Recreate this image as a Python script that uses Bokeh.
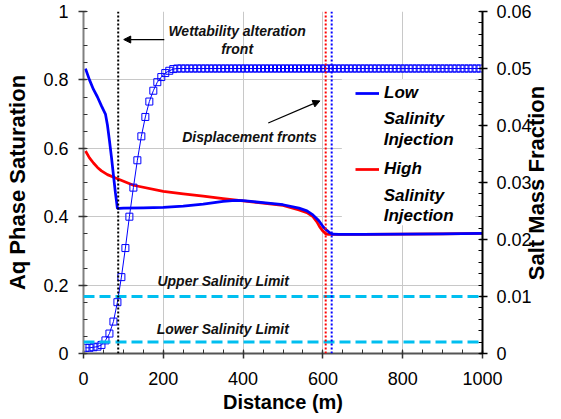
import math
from bokeh.plotting import figure
from bokeh.models import (Range1d, LinearAxis, SingleIntervalTicker, Span, Label,
                          Arrow, NormalHead, BoxAnnotation, Legend, LegendItem,
                          CustomJSTickFormatter)
from bokeh.embed import file_html
from bokeh.resources import INLINE

# ---------------- data ----------------
# Aqueous phase saturation, low salinity injection
low_x = [5, 15, 25, 35, 45, 55, 60, 65, 70, 75, 80, 85, 90, 100, 150, 200, 250,
         300, 350, 380, 400, 450, 500, 540, 560, 575, 590, 601, 610, 617, 625,
         640, 700, 800, 900, 1000]
low_sat = [0.833, 0.800, 0.772, 0.750, 0.724, 0.700, 0.668, 0.623, 0.575, 0.522,
           0.470, 0.424, 0.424, 0.425, 0.426, 0.427, 0.431, 0.437, 0.445, 0.448,
           0.447, 0.441, 0.435, 0.425, 0.417, 0.405, 0.388, 0.370, 0.360, 0.353,
           0.349, 0.348, 0.348, 0.349, 0.350, 0.351]

# Aqueous phase saturation, high salinity injection
high_x = [5, 15, 25, 35, 45, 60, 85, 125, 200, 250, 300, 350, 400, 450, 500,
          540, 560, 575, 585, 592, 600, 608, 615, 625, 700, 800, 900, 1000]
high_sat = [0.592, 0.572, 0.557, 0.544, 0.534, 0.523, 0.511, 0.492, 0.474, 0.467,
            0.460, 0.453, 0.446, 0.440, 0.433, 0.420, 0.412, 0.400, 0.385, 0.370,
            0.358, 0.349, 0.348, 0.348, 0.348, 0.349, 0.350, 0.351]

# Salt mass fraction (grid-block centres every 10 m)
salt_x = list(range(5, 1000, 10))
salt_frac = [
    0.0010, 0.0010, 0.0011, 0.0012, 0.0015, 0.0023, 0.0035, 0.0056, 0.0090, 0.0134,
    0.0185, 0.0240, 0.0291, 0.0339, 0.0381, 0.0415, 0.0442, 0.0461, 0.0476, 0.0485,
    0.0492, 0.0496, 0.0499, 0.0500, 0.0500, 0.0500, 0.0500, 0.0500, 0.0500, 0.0500,
    0.0500, 0.0500, 0.0500, 0.0500, 0.0500, 0.0500, 0.0500, 0.0500, 0.0500, 0.0500,
    0.0500, 0.0500, 0.0500, 0.0500, 0.0500, 0.0500, 0.0500, 0.0500, 0.0500, 0.0500,
    0.0500, 0.0500, 0.0500, 0.0500, 0.0500, 0.0500, 0.0500, 0.0500, 0.0500, 0.0500,
    0.0500, 0.0500, 0.0500, 0.0500, 0.0500, 0.0500, 0.0500, 0.0500, 0.0500, 0.0500,
    0.0500, 0.0500, 0.0500, 0.0500, 0.0500, 0.0500, 0.0500, 0.0500, 0.0500, 0.0500,
    0.0500, 0.0500, 0.0500, 0.0500, 0.0500, 0.0500, 0.0500, 0.0500, 0.0500, 0.0500,
    0.0500, 0.0500, 0.0500, 0.0500, 0.0500, 0.0500, 0.0500, 0.0500, 0.0500, 0.0500,
]

# Fronts (m): wettability alteration, high-salinity displacement, low-salinity displacement
front_wett = 87
front_high = 607
front_low = 622

# Salinity limits (salt mass fraction)
upper_salinity_limit = 0.010
lower_salinity_limit = 0.002

FONT = "Liberation Sans"

# ---------------- figure ----------------
p = figure(frame_width=399, frame_height=342,
           min_border_left=83, min_border_right=79,
           min_border_top=11, min_border_bottom=66,
           x_range=Range1d(0, 1000), y_range=Range1d(0, 1),
           output_backend="svg", toolbar_location=None)
p.outline_line_color = None
p.background_fill_color = "white"
p.border_fill_color = "white"
p.extra_y_ranges = {"salt": Range1d(0, 0.06)}

# grids
p.xgrid.ticker = SingleIntervalTicker(interval=200)
p.ygrid.ticker = SingleIntervalTicker(interval=0.2)
p.grid.grid_line_color = "#c8c8c8"
p.grid.grid_line_width = 1

# axes
xax = p.xaxis[0]
xax.ticker = SingleIntervalTicker(interval=200, num_minor_ticks=4)
xax.axis_label = "Distance (m)"
xax.axis_line_color = "#555555"
xax.major_tick_line_color = "#333333"
xax.minor_tick_line_color = "#333333"

yax = p.yaxis[0]
yax.ticker = SingleIntervalTicker(interval=0.2, num_minor_ticks=4)
yax.formatter = CustomJSTickFormatter(code="return String(Math.round(tick*100)/100);")
yax.axis_label = "Aq Phase Saturation"
yax.axis_line_color = "#808080"
yax.major_tick_line_color = "#333333"
yax.minor_tick_line_color = "#333333"

rax = LinearAxis(y_range_name="salt")
rax.ticker = SingleIntervalTicker(interval=0.01, num_minor_ticks=5)
rax.formatter = CustomJSTickFormatter(code="return String(Math.round(tick*1000)/1000);")
rax.axis_line_color = "black"
rax.axis_label = "Salt Mass Fraction"
_props = rax.properties()
if "axis_label_orientation" in _props and "axis_label_align" in _props:
    # read bottom-to-top like the reference; anchor at the axis start and
    # pad with non-breaking spaces so the title sits centred
    rax.axis_label_orientation = math.pi / 2
    for _v in ("start", "left"):
        try:
            rax.axis_label_align = _v
            break
        except Exception:
            pass
    rax.axis_label = "\u00a0" * 12 + "Salt Mass Fraction"
p.add_layout(rax, "right")

for ax in (xax, yax, rax):
    ax.axis_line_width = 2
    ax.major_tick_line_width = 1.5
    ax.minor_tick_line_width = 1
    ax.major_tick_out = 5
    ax.major_tick_in = 3
    ax.minor_tick_out = 0
    ax.minor_tick_in = 4
    ax.major_label_text_font = FONT
    ax.major_label_text_font_size = "18px"
    ax.major_label_text_color = "black"
    ax.axis_label_text_font = FONT
    ax.axis_label_text_font_size = "22px"
    ax.axis_label_text_font_style = "bold"
    ax.axis_label_text_color = "black"
xax.axis_label_text_font_size = "20px"
xax.major_label_standoff = 13
xax.axis_label_standoff = 3
yax.major_label_standoff = 10
yax.axis_label_standoff = 10
rax.major_label_standoff = 9
rax.axis_label_standoff = 2

# salinity limits (cyan dashed)
for lim in (upper_salinity_limit, lower_salinity_limit):
    p.add_layout(Span(location=lim, dimension="width", y_range_name="salt",
                      line_color="#00bff0", line_width=3, line_dash="11 5"))

# fronts (dotted)
for loc, col in ((front_wett, "black"), (front_high, "red"), (front_low, "blue")):
    p.add_layout(Span(location=loc, dimension="height", line_color=col,
                      line_width=2, line_dash="2 2"))

# curves
r_high = p.line(high_x, high_sat, line_color="red", line_width=2.75)
r_low = p.line(low_x, low_sat, line_color="blue", line_width=2.75)
p.line(salt_x, salt_frac, y_range_name="salt", line_color="blue", line_width=1)
p.scatter(salt_x, salt_frac, y_range_name="salt", marker="square", size=7,
          fill_color=None, line_color="blue", line_width=1)

# legend background
p.add_layout(BoxAnnotation(left=647.5, right=982, top=0.802, bottom=0.375,
                           fill_color="white", fill_alpha=1, line_color=None))

legend = Legend(items=[LegendItem(label="Low", renderers=[r_low]),
                       LegendItem(label="High", renderers=[r_high])],
                location=(272, 174), orientation="vertical",
                padding=0, margin=0, spacing=56, glyph_width=24, glyph_height=20,
                label_height=20, label_standoff=5,
                label_text_font=FONT, label_text_font_size="17px",
                label_text_font_style="bold italic", label_text_color="black",
                background_fill_alpha=0, border_line_color=None)
p.add_layout(legend, "center")

def lab(x, y, text, size="14px", align="center", color="#111111"):
    p.add_layout(Label(x=x, y=y, text=text, text_align=align,
                       text_baseline="alphabetic", text_font=FONT,
                       text_font_size=size, text_font_style="bold italic",
                       text_color=color))

# legend continuation lines
lab(752.5, 0.686, "Salinity", "17px", "left", "black")
lab(752.5, 0.627, "Injection", "17px", "left", "black")
lab(752.5, 0.462, "Salinity", "17px", "left", "black")
lab(752.5, 0.404, "Injection", "17px", "left", "black")

# annotations
lab(385, 0.9424, "Wettability alteration")
lab(385, 0.889, "front")
lab(416, 0.633, "Displacement fronts")
lab(350, 0.212, "Upper Salinity Limit")
lab(349, 0.073, "Lower Salinity Limit")

p.add_layout(Arrow(end=NormalHead(size=7, fill_color="black", line_color="black"),
                   x_start=202.5, y_start=0.918, x_end=100.8, y_end=0.918,
                   line_width=1.2, line_color="black"))
p.add_layout(Arrow(end=NormalHead(size=7, fill_color="black", line_color="black"),
                   x_start=463, y_start=0.674, x_end=592.5, y_end=0.7386,
                   line_width=1.2, line_color="black"))

open("out.html", "w").write(file_html(p, INLINE))
